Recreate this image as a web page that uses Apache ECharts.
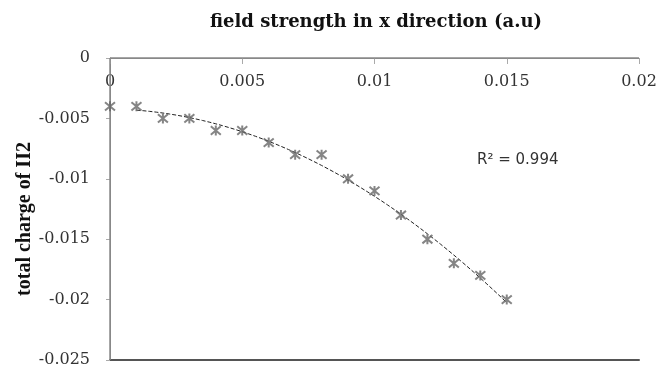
<!DOCTYPE html>
<html>
<head>
<meta charset="utf-8">
<script src="https://cdn.jsdelivr.net/npm/echarts@6/dist/echarts.min.js"></script>
<style>
  html, body { margin: 0; padding: 0; background: #fff; }
  #chart { width: 659px; height: 366px; }
</style>
</head>
<body>
<div id="chart"></div>
<script>
// Field strength (a.u) along x, and the total charge measured at each step
const fieldStrength = [0, 0.001, 0.002, 0.003, 0.004, 0.005, 0.006, 0.007,
                       0.008, 0.009, 0.010, 0.011, 0.012, 0.013, 0.014, 0.015];
const totalCharge = [-0.004, -0.004, -0.005, -0.005, -0.006, -0.006, -0.007, -0.008,
                     -0.008, -0.010, -0.011, -0.013, -0.015, -0.017, -0.018, -0.020];
const xTicks = [0, 0.005, 0.01, 0.015, 0.02];
const yTicks = [0, -0.005, -0.01, -0.015, -0.02, -0.025];
const rSquaredText = 'R\u00B2 = 0.994';

// Second-order polynomial least-squares trendline through the measured points
function quadFit(xs, ys) {
  let n = xs.length, s1 = 0, s2 = 0, s3 = 0, s4 = 0, t0 = 0, t1 = 0, t2 = 0;
  for (let i = 0; i < n; i++) {
    const x = xs[i], y = ys[i];
    s1 += x; s2 += x * x; s3 += x * x * x; s4 += x * x * x * x;
    t0 += y; t1 += x * y; t2 += x * x * y;
  }
  const M = [[n, s1, s2, t0], [s1, s2, s3, t1], [s2, s3, s4, t2]];
  for (let c = 0; c < 3; c++) {
    for (let r = c + 1; r < 3; r++) {
      const f = M[r][c] / M[c][c];
      for (let k = c; k < 4; k++) M[r][k] -= f * M[c][k];
    }
  }
  const b = [0, 0, 0];
  for (let r = 2; r >= 0; r--) {
    let s = M[r][3];
    for (let k = r + 1; k < 3; k++) s -= M[r][k] * b[k];
    b[r] = s / M[r][r];
  }
  return b;
}
const coef = quadFit(fieldStrength, totalCharge);
const trendStart = fieldStrength[1];
const trendEnd = fieldStrength[fieldStrength.length - 1];
const trendLine = [];
for (let i = 0; i <= 56; i++) {
  const x = trendStart + (trendEnd - trendStart) * i / 56;
  trendLine.push([x, coef[0] + coef[1] * x + coef[2] * x * x]);
}

const points = fieldStrength.map((x, i) => [x, totalCharge[i]]);
const serif = 'DejaVu Serif';
const tickText = (list) => (v) => {
  const r = +v.toFixed(3);
  return list.includes(r) ? String(r) : '';
};

// Frame lines: the zero line across the top and the value axis on the left,
// built from the axis ranges so they sit exactly on the scales
const xMin = xTicks[0], xMax = xTicks[xTicks.length - 1];
const yTop = yTicks[0], yBottom = yTicks[yTicks.length - 1];
const zeroLine = [[xMin, yTop], [xMax, yTop]];
const valueAxisLine = [[xMin, yTop], [xMin, yBottom]];
const frameSeries = (data) => ({
  type: 'line', data, showSymbol: false, symbol: 'none', clip: false, silent: true,
  lineStyle: { color: '#888', width: 1.5 }, z: 1
});

const chart = echarts.init(document.getElementById('chart'), null, { renderer: 'canvas' });
chart.setOption({
  animation: false,
  backgroundColor: '#ffffff',
  title: {
    text: 'field strength in x direction (a.u)',
    left: 371, top: 8, textAlign: 'center',
    textStyle: { fontFamily: serif, fontWeight: 'bold', fontSize: 18, color: '#111' }
  },
  grid: { left: 110, right: 20, top: 58, bottom: 6, outerBoundsMode: 'none', containLabel: false },
  xAxis: [{
    type: 'value', min: xMin, max: xMax, interval: 0.005,
    position: 'top',
    axisLine: { show: true, onZero: false, lineStyle: { color: '#888', width: 1 } },
    axisTick: { show: true, inside: true, length: 6, lineStyle: { color: '#aaa' } },
    axisLabel: {
      inside: true, margin: 16, fontFamily: serif, fontSize: 16, color: '#333',
      verticalAlign: 'top', formatter: tickText(xTicks)
    },
    splitLine: { show: false }
  }, {
    // closing line along the bottom of the plot
    type: 'value', min: xMin, max: xMax, position: 'bottom',
    axisLine: { show: true, onZero: false, lineStyle: { color: '#555', width: 2 } },
    axisTick: { show: false }, axisLabel: { show: false }, splitLine: { show: false }
  }],
  yAxis: {
    type: 'value', min: yBottom, max: yTop, interval: 0.005,
    axisLine: { show: true, onZero: false, lineStyle: { color: '#888', width: 1 } },
    axisTick: { show: true, length: 4, lineStyle: { color: '#aaa' } },
    axisLabel: {
      margin: 20, fontFamily: serif, fontSize: 16, color: '#333',
      formatter: tickText(yTicks)
    },
    splitLine: { show: false }
  },
  series: [
    frameSeries(zeroLine),
    frameSeries(valueAxisLine),
    {
      type: 'line', data: trendLine, showSymbol: false, symbol: 'none',
      lineStyle: { color: '#222', width: 1, type: [4, 2] }, z: 2
    }, {
      type: 'scatter', data: points,
      symbol: 'path://M0 0L10 10M10 0L0 10M5 -1L5 11',
      symbolSize: 10,
      itemStyle: { color: '#666', borderColor: '#666', borderWidth: 2 },
      z: 3
    }
  ],
  graphic: [{
    type: 'text', x: 25, y: 219, rotation: Math.PI / 2,
    style: {
      text: 'total charge of II2', font: 'bold 20px "Liberation Serif"', fill: '#111',
      align: 'center', verticalAlign: 'middle'
    }
  }, {
    type: 'text', left: 477, top: 153,
    style: { text: rSquaredText, font: '15px "DejaVu Sans"', fill: '#333' }
  }]
});
</script>
</body>
</html>
